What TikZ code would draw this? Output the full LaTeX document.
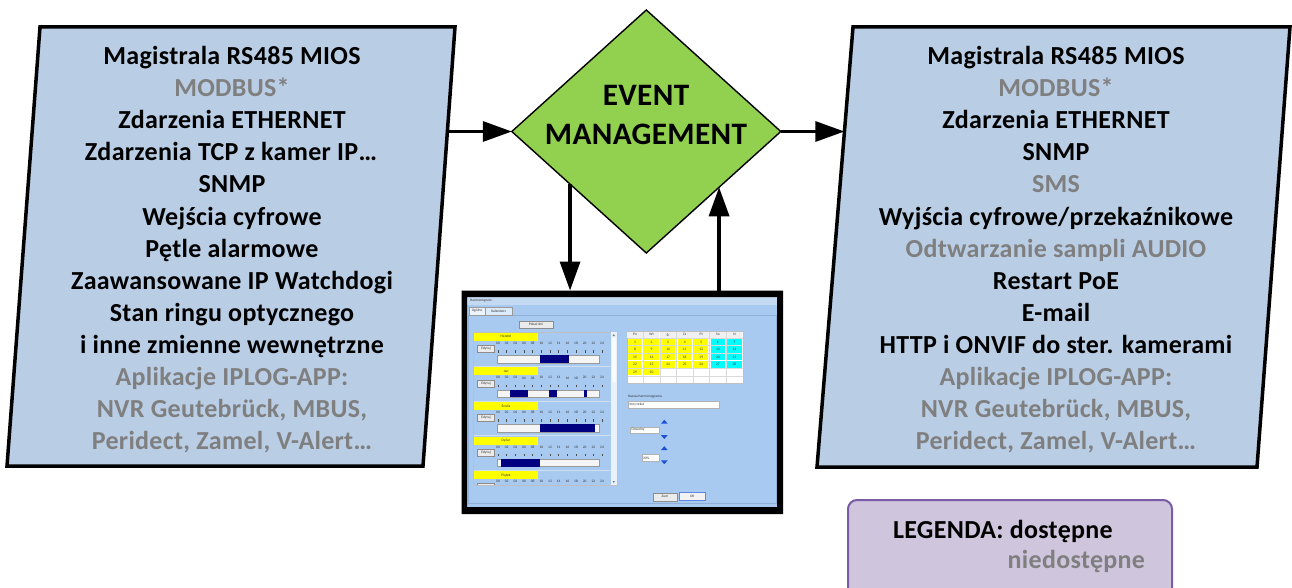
\documentclass[tikz,border=0pt]{standalone}
\usepackage{fontspec}
\setmainfont{Carlito}[LetterSpace=1.2]
\usetikzlibrary{shapes.geometric,arrows.meta,calc}

\definecolor{boxFill}{HTML}{B9CDE5}
\definecolor{greyTxt}{HTML}{7F7F7F}
\definecolor{emGreen}{HTML}{92D050}
\definecolor{legFill}{HTML}{CFC5DD}
\definecolor{legLine}{HTML}{7B5AA6}
\definecolor{winBlue}{HTML}{A8CAF0}
\definecolor{winTitle}{HTML}{C4DAF3}
\definecolor{paneLine}{HTML}{8FB0D8}
\definecolor{navyBar}{HTML}{000080}
\definecolor{spinBlue}{HTML}{1F4FD8}
\definecolor{calCyan}{HTML}{00FFFF}
\definecolor{calYellow}{HTML}{FFFF00}

\newcommand\itemfont{\bfseries\fontsize{26}{32}\selectfont}
\newcommand\emfont{\bfseries\fontsize{31.2}{37}\selectfont}
\newcommand\dlgfont{\fontsize{3.6}{4}\selectfont}

\tikzset{
  every node/.style={inner sep=0pt, outer sep=0pt},
  item/.style={anchor=base, font=\itemfont},
  off/.style={text=greyTxt},
  srcbox/.style={fill=boxFill, draw=black, line width=3.5pt},
  arr/.style={line width=3.2pt, -{Triangle[length=29pt,width=20pt]}},
  tinytxt/.style={font=\dlgfont, text=black!80},
  btn/.style={draw=black!45, fill=black!8, line width=0.4pt},
  field/.style={draw=black!30, fill=white, line width=0.3pt},
  barline/.style={draw=black!40, fill=black!4, line width=0.4pt},
}

\begin{document}
\begin{tikzpicture}[x=1pt, y=-1pt]
\useasboundingbox (0,0) rectangle (1292,588);

% ---------- input sources ----------
\path[srcbox] (40,27) -- (455,27) -- (423,466) -- (7,466) -- cycle;
\coordinate (lbE) at (447.4,131.5);
\node[item]      (a1)  at (232,65)  {Magistrala RS485 MIOS};
\node[item,off]  (a2)  at (232,97)  {MODBUS*};
\node[item]      (a3)  at (232,129) {Zdarzenia ETHERNET};
\node[item]      (a4)  at (231,161) {Zdarzenia TCP z kamer IP…};
\node[item]      (a5)  at (232,193) {SNMP};
\node[item]      (a6)  at (232,225) {Wejścia cyfrowe};
\node[item]      (a7)  at (232,257) {Pętle alarmowe};
\node[item]      (a8)  at (232,289) {Zaawansowane IP Watchdogi};
\node[item]      (a9)  at (232,321) {Stan ringu optycznego};
\node[item]      (a10) at (232,353) {i inne zmienne wewnętrzne};
\node[item,off]  (a11) at (232,385) {Aplikacje IPLOG-APP:};
\node[item,off]  (a12) at (232,417) {NVR Geutebrück, MBUS,};
\node[item,off]  (a13) at (232,449) {Peridect, Zamel, V-Alert…};

% ---------- actions ----------
\path[srcbox] (853,27) -- (1290,27) -- (1257,467) -- (817,467) -- cycle;
\coordinate (rbW) at (844.4,131.5);
\node[item]      (b1)  at (1056,65)  {Magistrala RS485 MIOS};
\node[item,off]  (b2)  at (1056,97)  {MODBUS*};
\node[item]      (b3)  at (1056,129) {Zdarzenia ETHERNET};
\node[item]      (b4)  at (1056,161) {SNMP};
\node[item,off]  (b5)  at (1056,193) {SMS};
\node[item]      (b6)  at (1056,225) {Wyjścia cyfrowe/przekaźnikowe};
\node[item,off]  (b7)  at (1056,257) {Odtwarzanie sampli AUDIO};
\node[item]      (b8)  at (1056,289) {Restart PoE};
\node[item]      (b9)  at (1056,321) {E-mail};
\node[item]      (b10) at (1056,353) {HTTP i ONVIF do ster. kamerami};
\node[item,off]  (b11) at (1056,385) {Aplikacje IPLOG-APP:};
\node[item,off]  (b12) at (1056,417) {NVR Geutebrück, MBUS,};
\node[item,off]  (b13) at (1056,449) {Peridect, Zamel, V-Alert…};

% ---------- event management ----------
\node[diamond, draw=black, fill=emGreen, line width=1.4pt,
      minimum width=269pt, minimum height=243pt] (dm) at (646.3,131.5) {};
\node[font=\emfont, anchor=base] (em1) at (646,106) {EVENT};
\node[font=\emfont, anchor=base] (em2) at (646,145) {MANAGEMENT};

% ---------- scheduler window ----------
\fill[winBlue] (464,293) rectangle (780,510);
\fill[winTitle] (467,297) rectangle (777,304.5);
\node[tinytxt, anchor=west] (ttl) at (470,301) {Harmonogram};
\draw[paneLine, line width=0.4pt] (468,315) rectangle (776,503.5);
\draw[black!40, fill=white!80!winBlue, line width=0.3pt] (469.3,307) rectangle (485,315);
\node[tinytxt] (tab1) at (477.1,311) {Ogólne};
\draw[black!40, fill=white!60!winBlue, line width=0.3pt] (485,307) rectangle (512.3,315);
\node[tinytxt] (tab2) at (498.6,311) {Kalendarz};
\draw[btn] (519.3,320.7) rectangle (552.7,328.3);
\node[tinytxt] (pk) at (536,324.5) {Pokaż dni};

% schedule list
\draw[black!25, fill=winBlue, line width=0.4pt] (473.3,331.7) rectangle (616.7,485);
\fill[white!75!winBlue] (610.7,332) rectangle (616.5,484.8);
\fill[white!92!winBlue] (611.5,338) rectangle (616,381.7);
\fill[black!50] (612.5,336) -- (615,336) -- (613.75,334) -- cycle;
\fill[black!50] (612.5,481) -- (615,481) -- (613.75,483) -- cycle;
\begin{scope}
  \clip (473.5,332) rectangle (610.5,484.8);
  \foreach \r/\nm in {0/Handel,1/Jan,2/Środa,3/Dyżur,4/Piątek}{
    \pgfmathsetmacro\yy{332.7+34.6*\r}
    \draw[white!60!paneLine, line width=0.4pt] (474,\yy-1) -- (610.5,\yy-1);
    \fill[calYellow] (474,\yy) rectangle (537.5,\yy+8);
    \node[tinytxt] (nm\r) at (506,\yy+4) {\nm};
    \draw[btn] (477.5,\yy+12.5) rectangle (494.5,\yy+19.5);
    \node[tinytxt] (ed\r) at (486,\yy+16) {Edytuj};
    \foreach \k in {0,...,12}{
      \pgfmathtruncatemacro\hh{2*\k}
      \node[tinytxt] (h\r-\k) at (498+8.67*\k,\yy+10.5) {\ifnum\hh<10 0\fi\hh};
      \draw[black!70, line width=0.4pt] (498+8.67*\k,\yy+17.3) -- (498+8.67*\k,\yy+19.8);
    }
    \draw[barline] (497,\yy+22.5) rectangle (599,\yy+30);
  }
  % occupied hours
  \fill[navyBar] (540,355.2) rectangle (569,362.7);
  \fill[navyBar] (510,389.8) rectangle (528,397.3);
  \fill[navyBar] (549,389.8) rectangle (557,397.3);
  \fill[navyBar] (584,389.8) rectangle (587,397.3);
  \fill[navyBar] (540,424.4) rectangle (595,431.9);
  \fill[navyBar] (501,459.0) rectangle (540,466.5);
\end{scope}

% calendar
\fill[white] (626.7,331) rectangle (742.7,383.3);
\foreach \c in {1,...,6}{
  \draw[black!15, line width=0.3pt] (626.7+16.57*\c,331) -- (626.7+16.57*\c,383.3);
}
\foreach \rr in {0,...,5}{
  \draw[black!15, line width=0.3pt] (626.7,338+7.55*\rr) -- (742.7,338+7.55*\rr);
}
\draw[black!25, line width=0.3pt] (626.7,331) rectangle (742.7,383.3);
\foreach \d [count=\c from 0] in {Pn,Wt,Śr,Cz,Pt,So,N}{
  \fill[black!6] (627.2+16.57*\c,331.5) rectangle ++(15.6,6);
  \node[tinytxt] (dh\c) at (635+16.57*\c,334.6) {\d};
}
\foreach \n in {1,...,30}{
  \pgfmathtruncatemacro\col{mod(\n-1,7)}
  \pgfmathtruncatemacro\row{int((\n-1)/7)}
  \ifnum\col>4 \def\cc{calCyan}\else\def\cc{calYellow}\fi
  \fill[\cc] (627.8+16.57*\col,338.8+7.55*\row) rectangle ++(14.4,6.2);
  \node[tinytxt] (cd\n) at (635+16.57*\col,341.9+7.55*\row) {\n};
}

% name and options
\node[tinytxt, anchor=west] (nzl) at (628,396.5) {Nazwa harmonogramu};
\draw[field] (627.7,400.7) rectangle (719,408.3);
\node[tinytxt, anchor=west] (nzv) at (629.5,404.5) {Inny tekst};
\fill[spinBlue] (661,423.6) -- (667.6,423.6) -- (664.3,419.8) -- cycle;
\draw[field] (630.3,426.7) rectangle (659.3,433.3);
\node[tinytxt, anchor=west] (opt1) at (631.5,430) {Dowolny};
\fill[spinBlue] (661,435.2) -- (667.6,435.2) -- (664.3,439) -- cycle;
\fill[spinBlue] (661,450) -- (667.6,450) -- (664.3,446.2) -- cycle;
\draw[field] (641.7,454.6) rectangle (659.3,461.4);
\node[tinytxt, anchor=west] (opt2) at (643,458) {20\%};
\fill[spinBlue] (661,460.4) -- (667.6,460.4) -- (664.3,464.2) -- cycle;

% dialog buttons
\draw[btn] (652.7,492.7) rectangle (677.3,500.7);
\node[tinytxt] (bz) at (665,496.7) {Zum};
\draw[draw=spinBlue!70, fill=black!5, line width=0.5pt] (679.3,492.7) rectangle (705,500.7);
\node[tinytxt] (bok) at (692.2,496.7) {OK};

% window frame
\node[minimum width=321.5pt, minimum height=223.5pt] (shot) at (622.25,402.25) {};
\fill[black, even odd rule] (shot.north west) rectangle (shot.south east)
  (467,297) rectangle (777,507);

% ---------- connectors ----------
\draw[arr] (lbE) -- (dm.west);
\draw[arr] (dm.east) -- (rbW);
\coordinate (dn) at ($(dm.west)!0.433!(dm.south)$);
\coordinate (up) at ($(dm.east)!0.459!(dm.south)$);
\draw[arr] (dn) -- (dn |- shot.north);
\draw[arr] (up |- shot.north) -- (up);

% ---------- legend ----------
\node[draw=legLine, fill=legFill, line width=2pt, rounded corners=9pt,
      minimum width=324pt, minimum height=104pt] (leg) at (1010,552) {};
\node[font=\itemfont, anchor=base west] (lg1) at (893,538) {LEGENDA: dostępne};
\node[font=\itemfont, anchor=base east, text=greyTxt] (lg2) at (1145,568) {niedostępne};
\end{tikzpicture}
\end{document}
